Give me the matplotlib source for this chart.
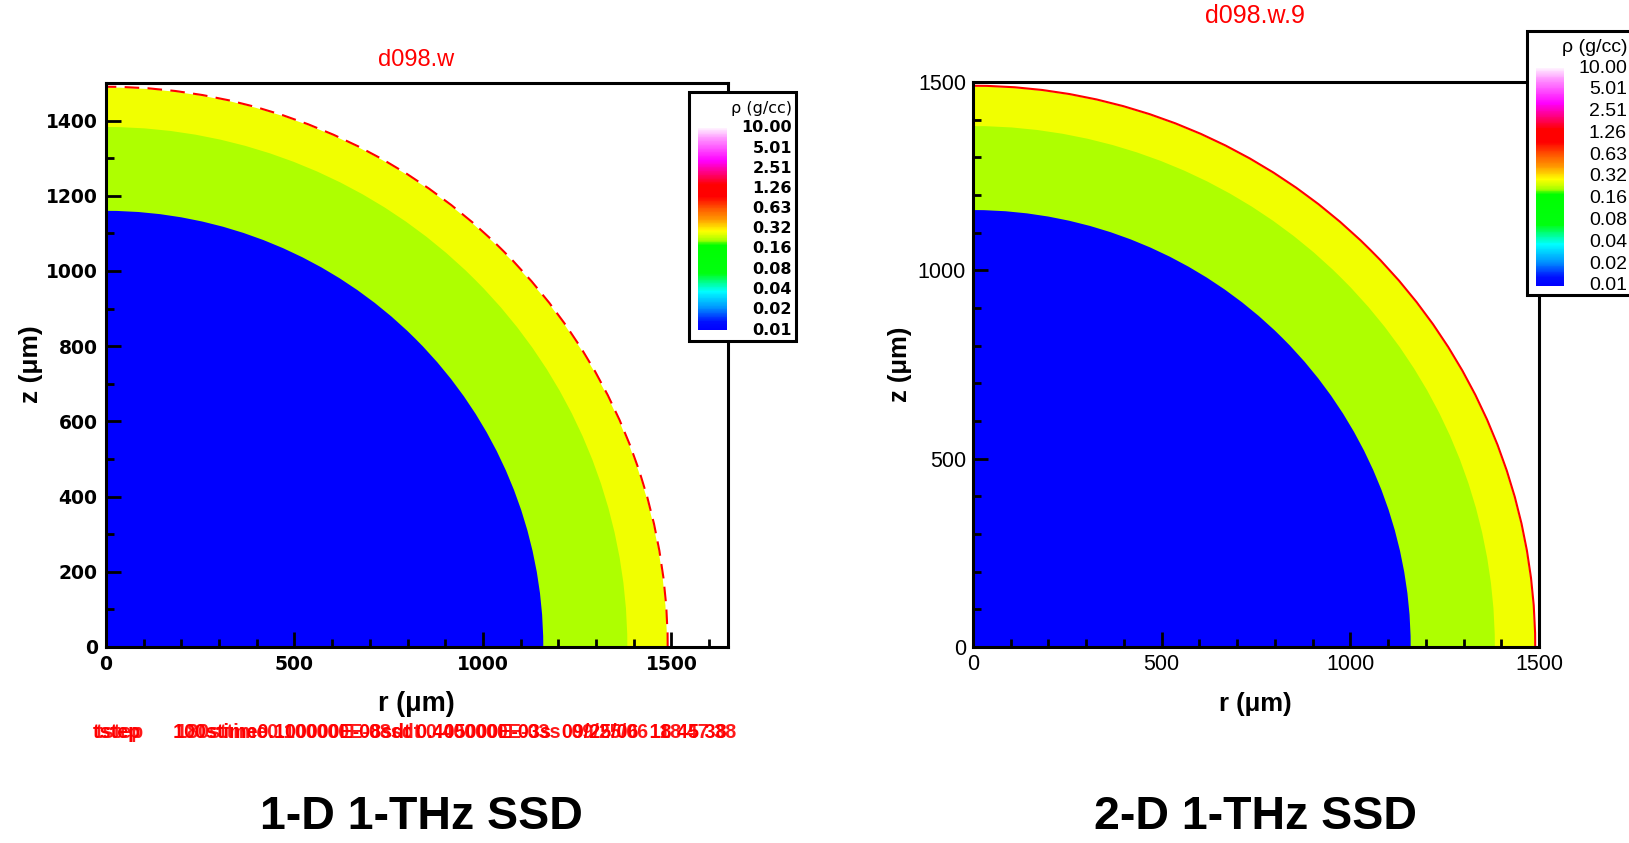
import numpy as np
import matplotlib.pyplot as plt
from matplotlib.colors import LinearSegmentedColormap, LogNorm
from matplotlib.patches import Wedge, Arc, Rectangle
from matplotlib.ticker import MultipleLocator, FixedLocator
from matplotlib.cm import ScalarMappable

W, H = 1629, 843

# shells of the target (outer radius in um, density in g/cc)
shell_radii = [1160, 1383, 1488]
shell_rho = [0.01, 0.22, 0.28]
edge_radius = 1490
edge_rho = 1.2

cbar_levels = [10.00, 5.01, 2.51, 1.26, 0.63, 0.32, 0.16, 0.08, 0.04, 0.02, 0.01]
cbar_labels = ['10.00', '5.01', '2.51', '1.26', '0.63', '0.32', '0.16', '0.08', '0.04', '0.02', '0.01']

left_xticks = [0, 500, 1000, 1500]
left_yticks = [0, 200, 400, 600, 800, 1000, 1200, 1400]
right_ticks = [0, 500, 1000, 1500]

panel_names = ['d098.w', 'd098.w.9']
panel_captions = ['1-D 1-THz SSD', '2-D 1-THz SSD']
footer_a = 'tstep      100stime0.100000E-08sdt 0.405000E-03s  09/25/06  18 45 38'
footer_b = 'tstep      180sttime0.100000E-08sdt 0.400000E-03s  09/25/06  18 47 38'

# tecplot-like "large rainbow" map on log(rho)
anchors = [(0.00, '#0000ff'), (0.04, '#0010ff'), (0.11, '#0096ff'), (0.19, '#00ffff'),
           (0.24, '#00ff80'), (0.28, '#00ff10'), (0.42, '#00ff00'), (0.445, '#aaff00'),
           (0.49, '#ffff00'), (0.55, '#ff9600'), (0.60, '#ff5a00'), (0.66, '#ff0000'),
           (0.72, '#ff0000'), (0.78, '#ff0080'), (0.84, '#ff00ff'), (0.95, '#ff96ff'),
           (1.00, '#fff0ff')]
cmap = LinearSegmentedColormap.from_list('tec', anchors, N=256)
norm = LogNorm(vmin=0.01, vmax=10.0)


def box(x0, y0, x1, y1):
    # pixel box -> figure fraction rect
    return [x0 / W, 1 - y1 / H, (x1 - x0) / W, (y1 - y0) / H]


fig = plt.figure(figsize=(W / 100, H / 100), dpi=100)


def draw_shells(ax, dashed):
    for r, rho in reversed(list(zip(shell_radii, shell_rho))):
        ax.add_patch(Wedge((0, 0), r, 0, 90, facecolor=cmap(norm(rho)), edgecolor='none'))
    ls = (0, (7, 4)) if dashed else '-'
    ax.add_patch(Arc((0, 0), 2 * edge_radius, 2 * edge_radius, theta1=0, theta2=90,
                     color=cmap(norm(edge_rho)), lw=1.5, ls=ls))
    for s in ax.spines.values():
        s.set_linewidth(2.2)
    ax.spines['top'].set_zorder(5)


def legend(x0, y0, x1, y1, cb, label_x, title_y, bold, size, family):
    fig.patches.append(Rectangle((x0 / W, 1 - y1 / H), (x1 - x0) / W, (y1 - y0) / H,
                                 transform=fig.transFigure, facecolor='white',
                                 edgecolor='black', lw=2.2, zorder=10))
    cax = fig.add_axes(box(*cb), zorder=11)
    c = fig.colorbar(ScalarMappable(norm=norm, cmap=cmap), cax=cax)
    c.outline.set_visible(False)
    cax.set_yticks([])
    cax.minorticks_off()
    cax.tick_params(which='both', length=0, labelright=False)
    w = cb[2] - cb[0]
    for v, t in zip(cbar_levels, cbar_labels):
        cax.text((label_x - cb[0]) / w, v, t, transform=cax.get_yaxis_transform(),
                 ha='right', va='center', fontsize=size, family=family,
                 fontweight='bold' if bold else 'normal')
    fig.text(label_x / W, 1 - title_y / H, 'ρ (g/cc)', ha='right', va='center',
             fontsize=size, family=family, zorder=12)


# ---- left panel (1-D)
axl = fig.add_axes(box(106, 83, 728, 647))
draw_shells(axl, True)
axl.set_xlim(0, 1650)
axl.set_ylim(0, 1500)
axl.xaxis.set_major_locator(FixedLocator(left_xticks))
axl.yaxis.set_major_locator(FixedLocator(left_yticks))
axl.xaxis.set_minor_locator(MultipleLocator(100))
axl.yaxis.set_minor_locator(MultipleLocator(100))
axl.tick_params(which='both', direction='in', width=2, top=False, right=False)
axl.tick_params(which='major', length=11, pad=6)
axl.tick_params(which='minor', length=6)
for lab in axl.get_xticklabels() + axl.get_yticklabels():
    lab.set_fontweight('bold')
    lab.set_fontsize(13.5)
    lab.set_family('DejaVu Sans')

fig.text(416 / W, 1 - 60 / H, panel_names[0], color='red', ha='center', va='center',
         fontsize=17, family='Liberation Sans')
fig.text(416 / W, 1 - 704 / H, 'r (μm)', ha='center', va='center', fontsize=19.5,
         fontweight='bold', family='Liberation Sans')
fig.text(31 / W, 1 - 364 / H, 'z (μm)', ha='center', va='center', rotation=90,
         fontsize=19, fontweight='bold', family='Liberation Sans')
fig.text(93 / W, 1 - 732 / H, footer_a, color='red', ha='left', va='center',
         fontsize=14.2, fontweight='bold', family='Liberation Sans')
fig.text(96 / W, 1 - 732 / H, footer_b, color='red', ha='left', va='center',
         fontsize=14.2, fontweight='bold', family='Liberation Sans', alpha=0.9)
legend(689, 92, 796, 341, (698, 128, 727, 330), 792, 108, True, 11.5, 'DejaVu Sans')

# ---- right panel (2-D)
axr = fig.add_axes(box(973, 82, 1539, 647))
draw_shells(axr, False)
axr.set_xlim(0, 1500)
axr.set_ylim(0, 1500)
axr.xaxis.set_major_locator(FixedLocator(right_ticks))
axr.yaxis.set_major_locator(FixedLocator(right_ticks))
axr.xaxis.set_minor_locator(MultipleLocator(100))
axr.yaxis.set_minor_locator(MultipleLocator(100))
axr.tick_params(which='both', direction='in', width=2, top=False, right=False)
axr.tick_params(which='major', length=11, pad=5)
axr.tick_params(which='minor', length=6)
for lab in axr.get_xticklabels() + axr.get_yticklabels():
    lab.set_fontsize(15.5)
    lab.set_family('Liberation Sans')

fig.text(1255 / W, 1 - 16 / H, panel_names[1], color='red', ha='center', va='center',
         fontsize=18, family='Liberation Sans')
fig.text(1255 / W, 1 - 704 / H, 'r (μm)', ha='center', va='center', fontsize=18.5,
         fontweight='bold', family='Liberation Sans')
fig.text(900 / W, 1 - 364 / H, 'z (μm)', ha='center', va='center', rotation=90,
         fontsize=18.5, fontweight='bold', family='Liberation Sans')
legend(1527, 31, 1660, 295, (1536, 68, 1564, 286), 1627, 47, False, 14, 'Liberation Sans')

# ---- captions
for cx, cap in zip([421, 1255], panel_captions):
    fig.text(cx / W, 1 - 817 / H, cap, ha='center', va='center', fontsize=33.5,
             fontweight='bold', family='Liberation Sans')

fig.savefig('out.png', dpi=100)
